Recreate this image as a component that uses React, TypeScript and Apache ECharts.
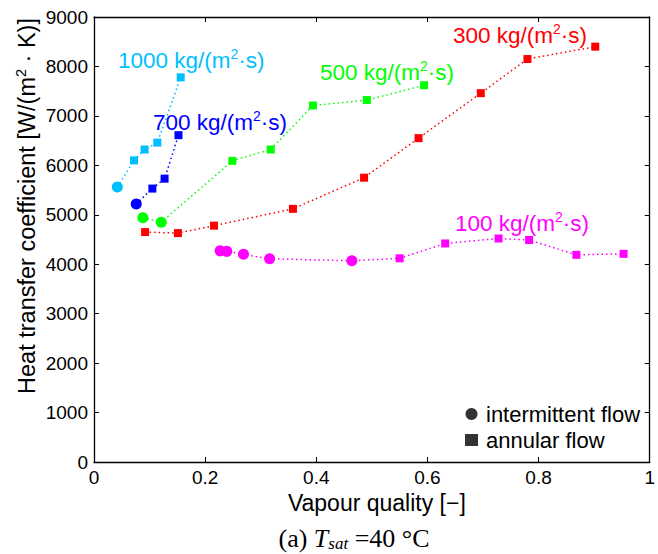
import React, { useEffect, useRef } from "react";
import * as echarts from "echarts";

// Vapour quality (x) and heat transfer coefficient (y) per mass flux
// regime: I = intermittent flow (circle), A = annular flow (square)
const x1000 = [0.042, 0.072, 0.091, 0.114, 0.156];
const y1000 = [5560, 6100, 6320, 6460, 7780];
const r1000 = ["I", "A", "A", "A", "A"];

const x700 = [0.076, 0.105, 0.127, 0.152];
const y700 = [5220, 5530, 5730, 6610];
const r700 = ["I", "A", "A", "A"];

const x500 = [0.088, 0.121, 0.249, 0.318, 0.394, 0.491, 0.594];
const y500 = [4940, 4850, 6090, 6320, 7210, 7320, 7620];
const r500 = ["I", "I", "A", "A", "A", "A", "A"];

const x300 = [0.092, 0.151, 0.216, 0.358, 0.486, 0.584, 0.696, 0.78, 0.902];
const y300 = [4650, 4630, 4780, 5120, 5750, 6550, 7460, 8150, 8400];
const r300 = ["A", "A", "A", "A", "A", "A", "A", "A", "A"];

const x100 = [0.227, 0.239, 0.269, 0.316, 0.464, 0.55, 0.632, 0.728, 0.783, 0.868, 0.953];
const y100 = [4270, 4260, 4200, 4110, 4070, 4120, 4420, 4520, 4490, 4190, 4210];
const r100 = ["I", "I", "I", "I", "I", "A", "A", "A", "A", "A", "A"];

const seriesNames = ["1000", "700", "500", "300", "100"];
const seriesColors = ["#00BFFF", "#0000FF", "#00FF00", "#FF0000", "#FF00FF"];
const legendNames = ["intermittent flow", "annular flow"];

const xTicks = [0, 0.2, 0.4, 0.6, 0.8, 1];
const yMax = 9000;
const yStep = 1000;

const FONT = "'Liberation Sans', Arial, Helvetica, sans-serif";
const SERIF = "'Liberation Serif', 'Times New Roman', serif";

function buildData(xs: number[], ys: number[], rs: string[]) {
  return xs.map((x, i) => ({
    value: [x, ys[i]],
    symbol: rs[i] === "I" ? "circle" : "rect",
    symbolSize: rs[i] === "I" ? 11 : 8,
  }));
}

export default function App() {
  const ref = useRef<HTMLDivElement>(null);
  useEffect(() => {
    if (!ref.current) return;
    const chart = echarts.init(ref.current, null, { renderer: "svg" });
    const groups = [
      [x1000, y1000, r1000],
      [x700, y700, r700],
      [x500, y500, r500],
      [x300, y300, r300],
      [x100, y100, r100],
    ] as [number[], number[], string[]][];

    const series: any[] = groups.map((g, i) => ({
      type: "line",
      name: seriesNames[i],
      data: buildData(g[0], g[1], g[2]),
      color: seriesColors[i],
      lineStyle: { type: [1.5, 3], width: 1.5, color: seriesColors[i] },
      itemStyle: { color: seriesColors[i] },
      showAllSymbol: true,
      z: 3,
    }));
    series.push(
      { type: "scatter", name: legendNames[0], data: [], symbol: "circle", itemStyle: { color: "#000" } },
      { type: "scatter", name: legendNames[1], data: [], symbol: "rect", itemStyle: { color: "#000" } }
    );

    const supRich = (color: string, size: number) => ({
      n: { fontSize: size, fontFamily: FONT, fill: color, color },
      s: {
        fontSize: size * 0.62,
        fontFamily: FONT,
        fill: color,
        color,
        verticalAlign: "top",
        padding: [0, 0, size * 0.5, 0],
      },
    });
    const ann = (label: string, color: string, left: number, cy: number) => ({
      type: "text",
      x: left,
      y: cy,
      style: {
        text: `{n|${label} kg/(m}{s|2}{n|·s)}`,
        rich: supRich(color, 22.5),
        fill: color,
        verticalAlign: "middle",
        align: "left",
      },
      z: 10,
    });

    const option: any = {
      animation: false,
      backgroundColor: "#fff",
      grid: { left: 94, right: 2, top: 17, bottom: 92, containLabel: false },
      xAxis: [
        {
          type: "value",
          min: xTicks[0],
          max: xTicks[xTicks.length - 1],
          interval: 0.2,
          name: "Vapour quality [−]",
          nameLocation: "middle",
          nameGap: 28,
          nameTextStyle: { fontFamily: FONT, fontSize: 23, color: "#000", padding: [0, 0, 0, 10] },
          axisLine: { lineStyle: { color: "#000", width: 1.3 } },
          axisTick: { inside: true, length: 5, lineStyle: { color: "#000" } },
          axisLabel: {
            fontFamily: FONT,
            fontSize: 19,
            color: "#000",
            margin: 6,
            formatter: (v: number) => String(+v.toFixed(1)),
          },
          splitLine: { show: false },
        },
        {
          type: "value",
          position: "top",
          min: 0,
          max: 1,
          interval: 0.2,
          axisLine: { onZero: false, lineStyle: { color: "#000", width: 1.3 } },
          axisTick: { inside: true, length: 5, lineStyle: { color: "#000" } },
          axisLabel: { show: false },
          splitLine: { show: false },
        },
      ],
      yAxis: [
        {
          type: "value",
          min: 0,
          max: yMax,
          interval: yStep,
          axisLine: { show: true, lineStyle: { color: "#000", width: 1.3 } },
          axisTick: { show: true, inside: true, length: 5, lineStyle: { color: "#000" } },
          axisLabel: {
            fontFamily: FONT,
            fontSize: 19,
            color: "#000",
            margin: 6,
            formatter: (v: number) => String(v),
          },
          splitLine: { show: false },
        },
        {
          type: "value",
          position: "right",
          min: 0,
          max: yMax,
          interval: yStep,
          axisLine: { show: true, onZero: false, lineStyle: { color: "#000", width: 1.3 } },
          axisTick: { show: true, inside: true, length: 5, lineStyle: { color: "#000" } },
          axisLabel: { show: false },
          splitLine: { show: false },
        },
      ],
      legend: {
        orient: "vertical",
        left: 460,
        top: 398,
        itemWidth: 13,
        itemHeight: 12,
        itemGap: 4,
        data: [
          { name: legendNames[0], icon: "circle" },
          { name: legendNames[1], icon: "rect" },
        ],
        textStyle: { fontFamily: FONT, fontSize: 22, color: "#000", padding: [0, 0, 0, 3] },
      },
      series,
      graphic: [
        ann(seriesNames[0], seriesColors[0], 118, 60),
        ann(seriesNames[1], seriesColors[1], 153, 122),
        ann(seriesNames[2], seriesColors[2], 320, 72),
        ann(seriesNames[3], seriesColors[3], 453, 35),
        ann(seriesNames[4], seriesColors[4], 455, 223),
        {
          type: "text",
          x: 27,
          y: 206,
          rotation: Math.PI / 2,
          style: {
            text: "{n|Heat transfer coefficient [W/(m}{s|2}{n| · K)]}",
            rich: supRich("#000", 23.5),
            fill: "#000",
            align: "center",
            verticalAlign: "middle",
          },
        },
        {
          type: "text",
          x: 354,
          y: 538,
          style: {
            text: "{a|(a) }{i|T}{b|sat}{a| =40 °C}",
            fill: "#000",
            rich: {
              a: { fontFamily: SERIF, fontSize: 26, fill: "#000" },
              i: { fontFamily: SERIF, fontSize: 26, fontStyle: "italic", fill: "#000" },
              b: {
                fontFamily: SERIF,
                fontSize: 17,
                fontStyle: "italic",
                fill: "#000",
                verticalAlign: "bottom",
                padding: [10, 0, 0, 0],
              },
            },
            align: "center",
            verticalAlign: "middle",
          },
        },
      ],
    };
    chart.setOption(option);
    return () => chart.dispose();
  }, []);
  return (
    <div
      ref={ref}
      style={{ position: "fixed", left: 0, top: 0, width: 658, height: 554, background: "#fff" }}
    />
  );
}
